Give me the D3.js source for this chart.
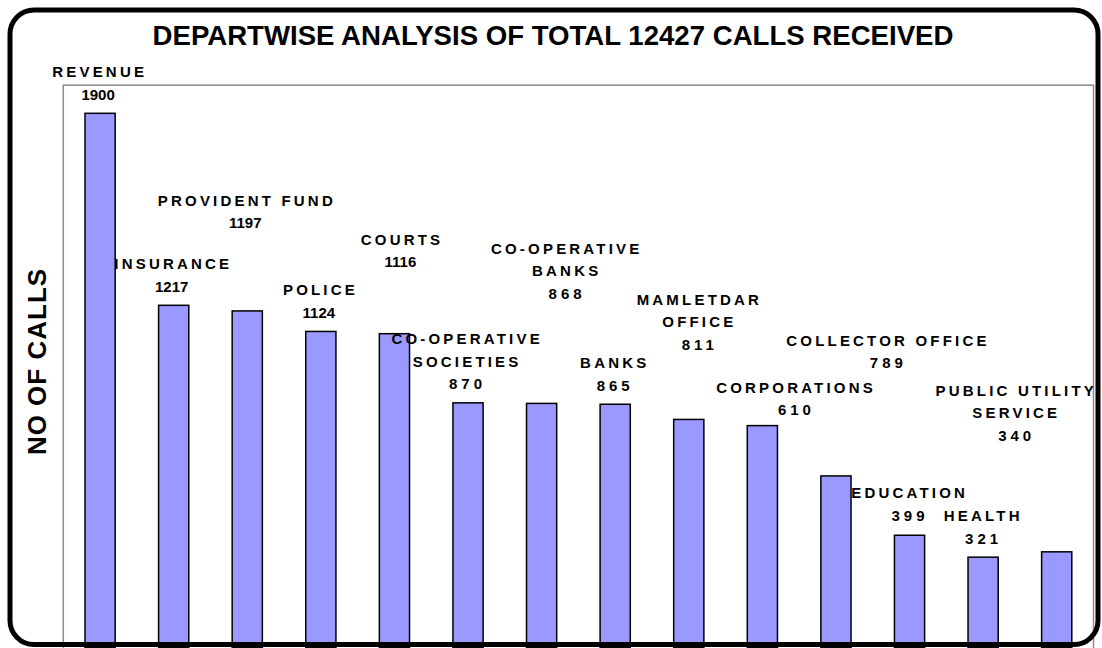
<!DOCTYPE html>
<html>
<head>
<meta charset="utf-8">
<script src="https://cdn.jsdelivr.net/npm/d3@7"></script>
<style>
  body { margin: 0; background: #fff; }
  svg { display: block; }
  text { font-family: "Liberation Sans", Arial, sans-serif; font-weight: bold; fill: #000; }
</style>
</head>
<body>
<svg id="chart" width="1102" height="648"></svg>
<script>
const departments = [
  'REVENUE', 'INSURANCE', 'PROVIDENT FUND', 'POLICE', 'COURTS',
  'CO-OPERATIVE\nSOCIETIES', 'CO-OPERATIVE\nBANKS', 'BANKS', 'MAMLETDAR\nOFFICE',
  'COLLECTOR OFFICE', 'CORPORATIONS', 'EDUCATION', 'HEALTH', 'PUBLIC UTILITY\nSERVICE',
];
const calls = [1900, 1217, 1197, 1124, 1116, 870, 868, 865, 811, 789, 610, 399, 321, 340];
const totalCalls = 12427;
const yDomain = [0, 2000];

// hand placed data labels in the original: [dx, extra lift] in px
const labelNudge = [
  [-2, 0], [-2, 0], [-2, 69], [-2, 0], [6, 53], [-2.5, 0], [23.5, 91],
  [-2, 0], [9, 56], [124, 44], [-41.5, 47], [-1.5, 1], [-1.5, 0], [-42, 97.6],
];

const width = 1102;
const height = 648;
const plot = { left: 63.3, right: 1093.5, top: 85.2, bottom: 647.4 };
const lineGap = 22.5;

const svg = d3.select('#chart');

const x = d3.scaleBand()
  .domain(d3.range(calls.length))
  .range([plot.left, plot.right])
  .paddingInner(0.59)
  .paddingOuter(0.295);

const y = d3.scaleLinear()
  .domain(yDomain)
  .range([plot.bottom, plot.top]);

// plot area
svg.append('rect')
  .attr('x', plot.left)
  .attr('y', plot.top)
  .attr('width', plot.right - plot.left)
  .attr('height', height + 20 - plot.top)
  .attr('fill', 'none')
  .attr('stroke', '#8c8c8c')
  .attr('stroke-width', 1.5);

svg.append('g')
  .selectAll('rect')
  .data(calls)
  .enter()
  .append('rect')
  .attr('x', (d, i) => x(i))
  .attr('y', (d) => y(d))
  .attr('width', x.bandwidth())
  .attr('height', (d) => y(0) - y(d))
  .attr('fill', '#9999ff')
  .attr('stroke', '#000')
  .attr('stroke-width', 1.5);

// data labels: department name lines, then the value
const labels = svg.append('g');
calls.forEach((v, i) => {
  const cx = x(i) + x.bandwidth() / 2 + labelNudge[i][0];
  const base = y(v) - 13.5 - labelNudge[i][1];
  const lines = departments[i].split('\n');
  const nameLs = 3.2;
  lines.forEach((line, k) => {
    labels.append('text')
      .attr('x', cx + nameLs / 2)
      .attr('y', base - (lines.length - k) * lineGap)
      .attr('text-anchor', 'middle')
      .style('font-size', '15px')
      .style('letter-spacing', `${nameLs}px`)
      .text(line);
  });
  const numLs = String(v).length === 3 ? 4 : 0;
  labels.append('text')
    .attr('x', cx + numLs / 2)
    .attr('y', base)
    .attr('text-anchor', 'middle')
    .style('font-size', '15px')
    .style('letter-spacing', `${numLs}px`)
    .text(v);
});

svg.append('text')
  .attr('x', 553)
  .attr('y', 45)
  .attr('text-anchor', 'middle')
  .style('font-size', '27.6px')
  .text(`DEPARTWISE ANALYSIS OF TOTAL ${totalCalls} CALLS RECEIVED`);

svg.append('text')
  .attr('transform', 'translate(46, 361.5) rotate(-90)')
  .attr('text-anchor', 'middle')
  .style('font-size', '26px')
  .style('letter-spacing', '1px')
  .text('NO OF CALLS');

// outer chart frame
svg.append('rect')
  .attr('x', 10)
  .attr('y', 10)
  .attr('width', 1088)
  .attr('height', 634.5)
  .attr('rx', 24)
  .attr('fill', 'none')
  .attr('stroke', '#000')
  .attr('stroke-width', 5);
</script>
</body>
</html>
